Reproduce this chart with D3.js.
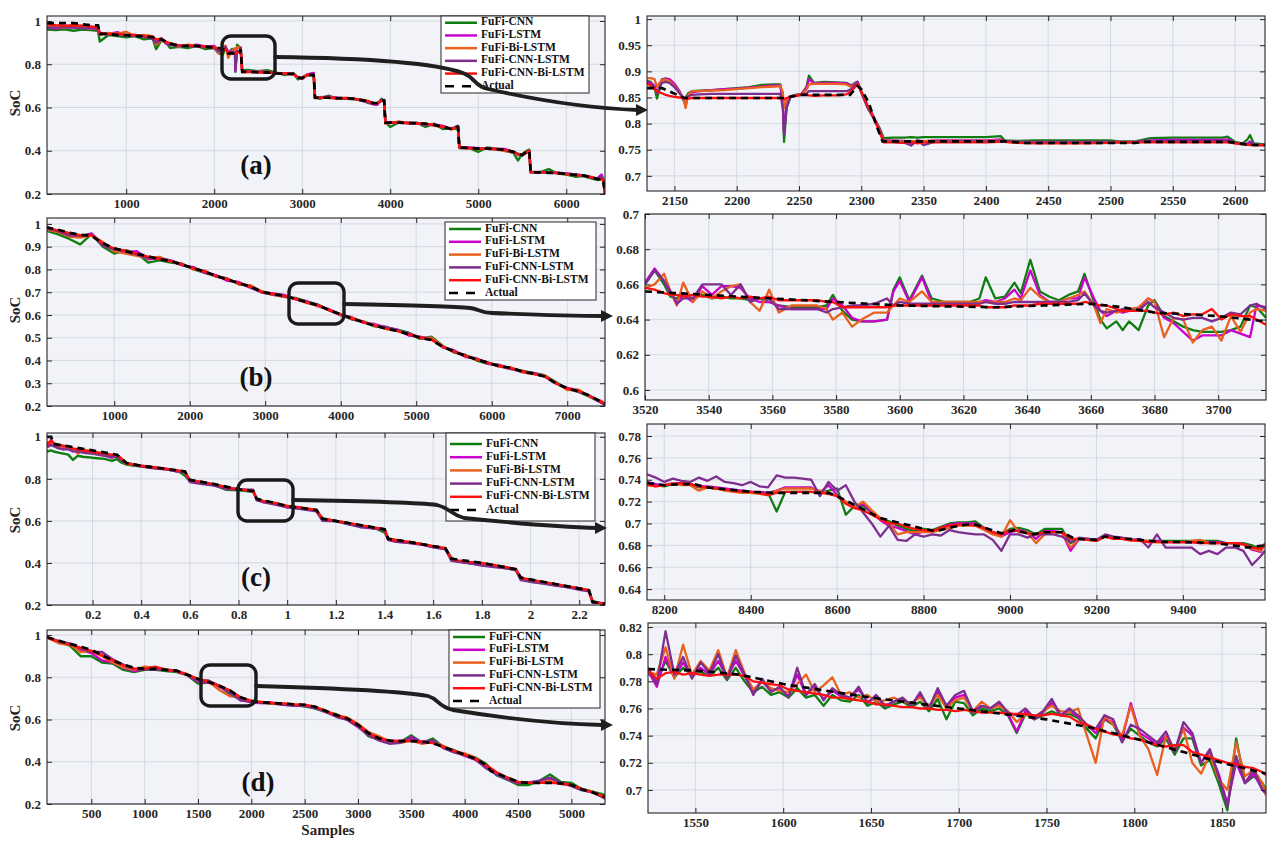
<!DOCTYPE html>
<html>
<head>
<meta charset="utf-8">
<script src="https://cdn.jsdelivr.net/npm/d3@7"></script>
<style>
  html, body { margin: 0; padding: 0; background: #ffffff; }
  svg { display: block; font-family: "Liberation Serif", "Times New Roman", serif; }
</style>
</head>
<body>
<svg id="fig" width="1269" height="841"></svg>
<script>
// ---------------- series ----------------
const seriesNames = ["FuFi-CNN", "FuFi-LSTM", "FuFi-Bi-LSTM", "FuFi-CNN-LSTM", "FuFi-CNN-Bi-LSTM", "Actual"];
const seriesColors = ["#0f7d0f", "#cc00cc", "#e8611e", "#7e2f8e", "#ff1010", "#000000"];

// ---------------- (a) full discharge ----------------
const aFullX = [100,200,300,400,500,600,680,700,800,900,1000,1100,1200,1300,1340,1400,1450,1500,1600,1700,1800,1900,2000,2050,2100,2128,2160,2200,2236,2240,2260,2290,2300,2318,
  2400,2500,2600,2700,2800,2900,2950,3000,3050,3100,3130,3145,3200,3300,3400,3500,3600,3700,3750,3800,3850,3900,3930,3945,
  4000,4100,4200,4300,4400,4500,4600,4700,4750,4770,4785,4900,5000,5100,5200,5300,5400,5450,5500,5550,5580,5595,
  5700,5800,5900,6000,6100,6200,6300,6350,6400,6420,6440];
const aFullActual = [.99,.99,.99,.99,.985,.98,.98,.94,.94,.935,.935,.93,.93,.925,.915,.915,.905,.895,.885,.885,.885,.88,.878,.875,.87,.868,.85,.85,.849,.85,.855,.855,.87,.765,
  .765,.763,.762,.758,.756,.755,.738,.735,.75,.75,.75,.645,.645,.645,.643,.643,.64,.632,.63,.62,.62,.632,.633,.53,
  .53,.53,.528,.527,.525,.52,.51,.5,.51,.51,.415,.413,.41,.41,.408,.405,.395,.385,.38,.395,.4,.3,
  .3,.298,.297,.293,.288,.285,.275,.27,.268,.268,.2];
const aFullCNN = [.96,.958,.962,.955,.96,.958,.955,.905,.935,.93,.925,.93,.915,.92,.87,.91,.9,.875,.88,.875,.885,.87,.875,.85,.845,.88,.85,.87,.872,.765,.89,.878,.878,.772,
  .773,.768,.772,.762,.75,.76,.73,.74,.745,.755,.752,.648,.64,.655,.64,.64,.638,.63,.62,.618,.615,.64,.628,.532,
  .51,.532,.528,.53,.51,.525,.5,.505,.5,.515,.418,.412,.395,.415,.41,.4,.39,.355,.385,.4,.405,.3,
  .3,.315,.295,.29,.28,.283,.27,.265,.268,.27,.2];
const aFullLSTM = [.97,.965,.97,.972,.968,.965,.96,.945,.94,.948,.932,.935,.93,.92,.905,.92,.895,.89,.888,.885,.89,.882,.885,.86,.87,.882,.855,.865,.868,.77,.875,.878,.878,.766,
  .766,.765,.764,.76,.758,.755,.74,.732,.752,.758,.76,.646,.648,.65,.645,.642,.64,.628,.625,.615,.612,.635,.635,.53,
  .532,.53,.53,.528,.52,.522,.515,.5,.512,.51,.415,.415,.412,.41,.408,.408,.395,.38,.382,.39,.4,.302,
  .302,.3,.298,.295,.29,.285,.275,.272,.29,.27,.2];
const aFullBiLSTM = [.975,.97,.968,.975,.97,.965,.97,.935,.945,.94,.95,.93,.935,.93,.89,.91,.9,.895,.88,.89,.886,.878,.88,.85,.88,.885,.83,.862,.872,.83,.88,.875,.878,.765,
  .766,.764,.765,.76,.757,.752,.742,.735,.748,.752,.755,.643,.645,.648,.642,.645,.64,.635,.628,.622,.618,.63,.635,.525,
  .528,.535,.528,.526,.525,.515,.51,.498,.508,.51,.412,.41,.408,.41,.405,.4,.39,.383,.378,.393,.398,.3,
  .3,.298,.298,.293,.288,.287,.278,.27,.27,.268,.2];
const aFullCNNLSTM = [.97,.968,.972,.97,.966,.968,.962,.94,.938,.936,.934,.932,.928,.918,.9,.912,.902,.89,.884,.884,.882,.88,.876,.86,.862,.88,.85,.858,.855,.78,.86,.86,.875,.765,
  .765,.764,.763,.758,.756,.755,.738,.738,.75,.752,.755,.645,.646,.645,.643,.642,.64,.632,.628,.62,.62,.63,.632,.53,
  .53,.53,.527,.527,.522,.518,.51,.502,.51,.512,.413,.413,.41,.41,.407,.403,.392,.385,.38,.393,.4,.3,
  .3,.3,.297,.294,.29,.286,.276,.27,.28,.268,.2];
const aFullCNNBiLSTM = [.985,.98,.978,.98,.978,.975,.97,.945,.94,.94,.935,.935,.93,.928,.915,.918,.905,.897,.887,.886,.885,.882,.878,.872,.865,.87,.85,.85,.85,.85,.855,.855,.87,.764,
  .764,.763,.762,.758,.757,.755,.74,.736,.75,.75,.752,.645,.645,.645,.643,.643,.64,.632,.63,.62,.62,.632,.633,.53,
  .531,.529,.528,.526,.524,.519,.511,.501,.509,.511,.416,.412,.41,.409,.408,.404,.396,.386,.381,.394,.399,.301,
  .301,.299,.296,.292,.288,.284,.276,.271,.268,.267,.2];

// ---------------- (a) zoomed window ----------------
const aZoomX = [2128,2131,2134,2136,2138,2140,2143,2146,2150,2154,2157,2159,2161,2164,2170,2180,2190,2200,2210,2220,
  2230,2235,2237,2238,2240,2243,2247,2252,2256,2258,2262,2270,2280,2288,2292,2295,2297,2300,2305,2310,
  2315,2318,2325,2335,2340,2345,2350,2360,2380,2400,2412,2415,2425,2440,2460,2480,2500,2506,2520,2532,
  2550,2570,2590,2594,2600,2606,2610,2612,2615,2624];
const aZoomActualX = [2128,2140,2158,2238,2251,2291,2297,2300,2306,2312,2317,2415,2430,2520,2528,2595,2612,2624];
const aZoomActual = [.868,.868,.849,.849,.855,.855,.872,.866,.84,.797,.766,.766,.763,.763,.765,.765,.759,.759];
const aZoomCNN = [.882,.88,.87,.848,.865,.885,.886,.884,.876,.862,.845,.85,.858,.862,.863,.864,.866,.868,.87,.874,
  .875,.875,.84,.765,.83,.852,.855,.857,.87,.892,.878,.88,.879,.878,.873,.878,.88,.86,.832,.812,
  .79,.772,.773,.773,.774,.773,.774,.774,.774,.774,.776,.768,.767,.768,.768,.768,.768,.766,.766,.772,
  .773,.773,.773,.775,.765,.762,.77,.778,.762,.76];
const aZoomLSTM = [.88,.878,.872,.858,.87,.884,.886,.885,.876,.862,.848,.835,.855,.86,.862,.864,.866,.867,.869,.871,
  .873,.873,.84,.78,.835,.852,.854,.857,.868,.885,.877,.878,.878,.877,.872,.877,.88,.86,.833,.812,
  .787,.768,.768,.767,.762,.768,.766,.768,.768,.768,.77,.766,.765,.765,.765,.765,.765,.765,.765,.768,
  .769,.769,.769,.77,.763,.761,.762,.766,.76,.759];
const aZoomBiLSTM = [.887,.887,.885,.87,.878,.884,.884,.882,.872,.86,.85,.83,.855,.862,.862,.863,.864,.866,.868,.87,
  .871,.872,.86,.83,.845,.852,.854,.856,.865,.875,.876,.876,.876,.875,.87,.876,.878,.86,.832,.81,
  .785,.767,.767,.766,.767,.766,.767,.767,.767,.767,.768,.765,.764,.764,.764,.764,.764,.764,.764,.766,
  .766,.766,.766,.766,.762,.76,.76,.762,.759,.759];
const aZoomCNNLSTM = [.876,.875,.87,.86,.868,.878,.88,.878,.87,.858,.85,.848,.852,.855,.856,.857,.857,.857,.857,.857,
  .857,.857,.83,.78,.83,.85,.853,.855,.858,.862,.862,.862,.862,.862,.866,.875,.879,.86,.83,.81,
  .783,.766,.765,.763,.758,.768,.759,.766,.766,.766,.767,.766,.764,.764,.764,.764,.764,.764,.764,.766,
  .767,.767,.767,.767,.763,.761,.76,.763,.759,.759];
const aZoomCNNBiLSTM = [.878,.872,.866,.862,.86,.858,.855,.853,.851,.85,.849,.848,.848,.849,.849,.849,.849,.849,.849,.849,
  .849,.849,.848,.846,.849,.851,.853,.855,.855,.854,.853,.854,.854,.856,.862,.87,.876,.862,.835,.812,
  .782,.764,.764,.763,.765,.762,.764,.764,.764,.764,.765,.765,.763,.762,.762,.762,.763,.764,.764,.764,
  .764,.764,.764,.764,.762,.761,.76,.759,.759,.759];

// ---------------- (b) full discharge ----------------
const bFullX = [100,250,400,550,700,850,1000,1150,1300,1450,1600,1750,1900,2050,2200,2350,2500,2650,2800,2950,
  3100,3250,3400,3550,3700,3850,4000,4150,4300,4450,4600,4750,4900,5050,5200,5350,5500,5650,5800,5950,
  6100,6250,6400,6550,6700,6850,7000,7150,7300,7450,7500];
const bFullActual = [.985,.975,.962,.952,.948,.915,.893,.88,.868,.858,.845,.837,.82,.806,.79,.772,.755,.74,.725,.703,
  .692,.685,.67,.656,.642,.622,.603,.585,.568,.553,.54,.53,.515,.5,.49,.46,.44,.42,.405,.39,
  .375,.368,.352,.342,.33,.3,.278,.265,.245,.218,.21];
const bFullCNN = [.97,.955,.935,.91,.955,.9,.87,.885,.872,.83,.84,.83,.825,.8,.785,.77,.76,.735,.73,.7,
  .69,.68,.675,.66,.645,.62,.6,.58,.572,.55,.545,.535,.522,.495,.505,.465,.435,.425,.4,.385,
  .38,.365,.355,.345,.335,.305,.275,.262,.24,.215,.208];
const bFullLSTM = [.98,.97,.95,.945,.958,.91,.885,.875,.88,.845,.85,.84,.818,.81,.785,.775,.75,.745,.72,.7,
  .695,.688,.668,.66,.638,.625,.6,.59,.565,.56,.545,.535,.51,.505,.495,.458,.445,.415,.41,.385,
  .38,.365,.35,.345,.33,.298,.28,.268,.242,.215,.205];
const bFullBiLSTM = [.975,.965,.945,.94,.95,.92,.88,.87,.86,.85,.855,.835,.825,.8,.795,.768,.76,.735,.73,.705,
  .688,.68,.672,.652,.64,.62,.598,.588,.57,.555,.538,.53,.518,.498,.5,.462,.44,.418,.408,.39,
  .372,.37,.348,.34,.335,.302,.27,.272,.24,.222,.21];
const bFullCNNLSTM = [.98,.968,.95,.948,.955,.905,.888,.878,.865,.85,.848,.838,.822,.805,.79,.77,.758,.738,.722,.7,
  .69,.682,.672,.655,.645,.62,.6,.582,.57,.552,.548,.53,.52,.5,.492,.46,.44,.42,.405,.39,
  .375,.362,.352,.342,.33,.3,.278,.262,.245,.215,.205];
const bFullCNNBiLSTM = [.985,.972,.96,.95,.95,.915,.892,.882,.868,.856,.846,.836,.82,.806,.79,.772,.756,.74,.725,.702,
  .693,.684,.671,.655,.643,.621,.604,.584,.569,.552,.541,.529,.516,.501,.492,.461,.439,.421,.404,.391,
  .376,.367,.353,.341,.331,.301,.277,.266,.244,.219,.21];

// ---------------- (b) zoomed window ----------------
const bZoomX = [3520,3523,3526,3528,3530,3532,3535,3538,3541,3544,3547,3550,3553,3556,3559,3562,3566,3570,3574,3577,
  3579,3582,3585,3588,3592,3596,3598,3600,3603,3607,3610,3614,3618,3622,3625,3627,3630,3633,3636,3638,
  3641,3644,3647,3650,3653,3656,3658,3661,3663,3665,3668,3670,3672,3675,3678,3680,3683,3686,3689,3692,
  3695,3698,3701,3704,3707,3710,3712,3715];
const bZoomActualX = [3520,3580,3600,3630,3645,3660,3670,3680,3700,3715];
const bZoomActual = [.656,.650,.648,.647,.648,.649,.647,.644,.642,.639];
const bZoomCNN = [.660,.668,.660,.653,.652,.655,.652,.654,.652,.653,.652,.652,.651,.652,.650,.648,.647,.647,.647,.648,
  .654,.645,.640,.639,.639,.640,.657,.664,.651,.665,.652,.650,.650,.650,.652,.664,.652,.653,.661,.655,
  .674,.656,.653,.651,.654,.656,.666,.650,.640,.635,.639,.634,.639,.634,.648,.651,.642,.639,.636,.634,
  .633,.633,.633,.634,.636,.648,.647,.641];
const bZoomLSTM = [.661,.669,.662,.655,.650,.654,.650,.659,.654,.659,.659,.658,.652,.650,.650,.648,.646,.646,.646,.646,
  .652,.648,.641,.639,.639,.640,.656,.662,.650,.664,.650,.649,.649,.649,.650,.651,.650,.652,.657,.652,
  .668,.654,.650,.650,.652,.652,.664,.652,.645,.642,.645,.644,.645,.646,.652,.650,.641,.638,.633,.628,
  .631,.631,.631,.634,.632,.630,.648,.647];
const bZoomBiLSTM = [.658,.660,.666,.656,.648,.661,.650,.656,.652,.656,.659,.660,.650,.645,.657,.644,.648,.648,.648,.646,
  .640,.644,.636,.640,.644,.644,.648,.652,.650,.656,.650,.650,.650,.650,.650,.650,.650,.650,.652,.651,
  .658,.653,.650,.650,.652,.654,.656,.648,.638,.646,.644,.645,.646,.647,.652,.650,.630,.641,.640,.627,
  .634,.636,.628,.642,.633,.644,.646,.645];
const bZoomCNNLSTM = [.660,.668,.662,.656,.649,.652,.652,.660,.660,.660,.654,.660,.650,.652,.652,.646,.646,.646,.646,.644,
  .646,.647,.648,.648,.649,.652,.648,.650,.649,.649,.649,.649,.649,.649,.649,.650,.649,.649,.650,.650,
  .650,.650,.650,.650,.650,.651,.655,.648,.645,.644,.645,.646,.646,.645,.650,.647,.644,.641,.640,.641,
  .641,.639,.641,.644,.643,.648,.649,.646];
const bZoomCNNBiLSTM = [.658,.657,.655,.654,.654,.653,.654,.653,.653,.652,.653,.652,.653,.652,.653,.651,.651,.651,.651,.650,
  .650,.647,.647,.647,.647,.647,.648,.648,.648,.648,.648,.648,.648,.648,.648,.647,.647,.647,.648,.648,
  .648,.649,.649,.649,.649,.649,.650,.649,.648,.648,.646,.645,.645,.645,.645,.644,.643,.644,.642,.643,
  .643,.646,.640,.643,.642,.642,.640,.637];

// ---------------- (c) full discharge (x in 10^4 samples) ----------------
const cFullX = [0.013,0.03,0.04,0.06,0.08,0.1,0.12,0.14,0.16,0.18,0.2,0.22,0.25,0.28,0.3,0.315,0.34,0.37,0.4,0.45,
  0.5,0.55,0.58,0.6,0.65,0.7,0.75,0.8,0.86,0.875,0.9,0.95,1.0,1.05,1.12,1.145,1.2,1.25,1.3,1.35,
  1.4,1.415,1.45,1.5,1.55,1.6,1.65,1.675,1.7,1.75,1.8,1.85,1.9,1.94,1.96,2.0,2.05,2.1,2.15,2.2,
  2.24,2.255,2.28,2.306];
const cFullActualX = [0.013,0.03,0.04,0.1,0.2,0.3,0.315,0.34,0.4,0.5,0.58,0.6,0.7,0.8,0.86,0.875,0.95,1.0,1.12,1.145,
  1.25,1.4,1.415,1.5,1.65,1.675,1.8,1.94,1.96,2.1,2.24,2.255,2.306];
const cFullActual = [1.0,1.0,.965,.955,.935,.915,.9,.875,.862,.848,.835,.795,.775,.75,.742,.705,.685,.67,.652,.61,
  .59,.56,.515,.5,.47,.42,.4,.37,.33,.3,.27,.215,.205];
const cFullCNN = [.93,.935,.93,.925,.92,.915,.89,.91,.905,.903,.9,.898,.895,.885,.895,.88,.868,.862,.86,.852,
  .845,.838,.815,.79,.78,.77,.748,.745,.738,.705,.695,.682,.668,.662,.648,.612,.6,.59,.575,.57,
  .545,.515,.508,.498,.49,.478,.468,.425,.41,.398,.395,.385,.375,.365,.33,.31,.305,.295,.285,.278,
  .268,.22,.21,.205];
const cFullLSTM = [.96,.965,.958,.95,.955,.945,.93,.94,.935,.93,.928,.918,.912,.9,.915,.895,.874,.865,.862,.855,
  .848,.835,.833,.79,.78,.772,.76,.75,.745,.7,.69,.682,.665,.66,.65,.605,.6,.585,.575,.565,
  .56,.51,.5,.498,.488,.475,.468,.418,.408,.4,.39,.385,.38,.368,.325,.315,.305,.298,.285,.28,
  .265,.215,.21,.205];
const cFullBiLSTM = [.97,.975,.965,.96,.94,.955,.94,.92,.94,.935,.93,.925,.92,.91,.912,.9,.872,.866,.86,.852,
  .846,.838,.83,.792,.782,.77,.758,.75,.742,.705,.69,.685,.672,.66,.652,.61,.6,.59,.578,.568,
  .56,.515,.505,.5,.49,.478,.47,.42,.41,.4,.39,.383,.378,.37,.325,.318,.305,.3,.288,.278,
  .27,.215,.21,.205];
const cFullCNNLSTM = [.95,.96,.955,.945,.94,.94,.932,.93,.925,.922,.92,.915,.91,.905,.905,.89,.875,.868,.858,.85,
  .845,.835,.832,.785,.775,.768,.752,.748,.748,.698,.69,.678,.665,.658,.645,.6,.598,.585,.57,.565,
  .558,.51,.5,.495,.488,.474,.465,.41,.405,.398,.388,.38,.375,.365,.318,.31,.302,.292,.285,.272,
  .265,.21,.212,.205];
const cFullCNNBiLSTM = [.96,.985,.97,.962,.958,.952,.945,.94,.935,.932,.93,.925,.92,.915,.912,.9,.875,.868,.862,.855,
  .848,.84,.835,.795,.785,.775,.76,.75,.742,.705,.695,.685,.67,.665,.652,.61,.6,.59,.58,.57,
  .56,.515,.508,.5,.49,.48,.47,.42,.412,.405,.4,.39,.38,.37,.33,.32,.31,.3,.29,.28,
  .27,.215,.21,.205];

// ---------------- (c) zoomed window ----------------
const cZoomX = [8160,8180,8200,8220,8240,8260,8280,8300,8320,8340,8360,8380,8400,8420,8440,8460,8480,8500,8520,8540,
  8560,8580,8600,8620,8640,8660,8680,8700,8720,8740,8760,8780,8800,8820,8840,8860,8880,8900,8920,8940,
  8960,8980,9000,9020,9040,9060,9080,9100,9120,9140,9160,9180,9200,9220,9240,9260,9280,9300,9320,9340,
  9360,9380,9400,9420,9440,9460,9480,9500,9520,9540,9560,9580,9590];
const cZoomActualX = [8160,8200,8240,8270,8300,8350,8400,8450,8500,8580,8600,8650,8700,8750,8800,8830,8870,8900,8920,8950,
  8980,9010,9050,9080,9120,9150,9200,9220,9300,9350,9400,9480,9550,9590];
const cZoomActual = [.737,.735,.736,.736,.733,.731,.729,.728,.728,.728,.725,.715,.705,.70,.695,.693,.697,.699,.699,.695,
  .691,.694,.69,.692,.692,.686,.685,.688,.685,.683,.683,.682,.678,.68];
const cZoomCNN = [.737,.735,.734,.736,.736,.736,.733,.733,.732,.731,.73,.729,.729,.728,.728,.711,.729,.729,.729,.729,
  .728,.73,.732,.708,.716,.716,.71,.704,.702,.698,.695,.693,.695,.694,.697,.7,.701,.701,.702,.696,
  .692,.69,.695,.696,.694,.69,.695,.695,.695,.682,.686,.686,.685,.688,.687,.686,.685,.684,.684,.684,
  .684,.684,.684,.684,.684,.684,.684,.682,.682,.682,.68,.676,.681];
const cZoomLSTM = [.738,.736,.735,.737,.737,.736,.734,.734,.733,.732,.731,.73,.729,.729,.728,.73,.733,.733,.733,.733,
  .728,.735,.726,.72,.715,.718,.71,.703,.698,.696,.693,.69,.693,.693,.696,.699,.7,.7,.7,.695,
  .691,.688,.692,.694,.692,.686,.693,.693,.692,.675,.686,.686,.685,.689,.687,.686,.685,.684,.683,.684,
  .683,.683,.683,.683,.682,.683,.683,.682,.682,.681,.676,.674,.682];
const cZoomBiLSTM = [.735,.734,.735,.737,.735,.735,.73,.733,.732,.73,.729,.728,.728,.727,.726,.73,.732,.732,.732,.732,
  .73,.728,.725,.72,.715,.72,.712,.705,.7,.69,.692,.692,.692,.692,.694,.696,.698,.698,.698,.694,
  .69,.688,.703,.692,.692,.682,.69,.692,.692,.678,.686,.685,.684,.688,.686,.686,.684,.684,.684,.683,
  .683,.683,.683,.684,.685,.682,.682,.682,.682,.681,.677,.675,.681];
const cZoomCNNLSTM = [.745,.742,.738,.741,.739,.738,.742,.739,.743,.738,.737,.735,.738,.734,.733,.744,.742,.742,.741,.74,
  .725,.738,.73,.735,.72,.71,.7,.688,.698,.685,.684,.69,.688,.69,.689,.694,.692,.691,.69,.69,
  .685,.675,.69,.69,.687,.69,.69,.69,.688,.683,.687,.686,.685,.69,.688,.687,.685,.686,.678,.69,
  .678,.678,.678,.678,.672,.675,.672,.678,.678,.675,.662,.67,.675];
const cZoomCNNBiLSTM = [.736,.734,.735,.736,.737,.736,.734,.733,.732,.731,.73,.729,.729,.728,.726,.728,.729,.729,.729,.729,
  .728,.727,.725,.718,.714,.712,.708,.704,.7,.7,.697,.695,.694,.693,.696,.698,.699,.699,.698,.696,
  .692,.69,.694,.693,.691,.69,.692,.692,.692,.686,.686,.685,.684,.688,.686,.686,.685,.684,.683,.683,
  .683,.683,.683,.683,.682,.682,.682,.682,.682,.681,.678,.677,.681];

// ---------------- (d) full discharge ----------------
const dFullX = [85,100,200,300,400,500,600,700,800,900,1000,1100,1200,1300,1400,1500,1600,1700,1800,1900,
  2000,2100,2200,2300,2400,2500,2600,2700,2800,2900,3000,3100,3200,3300,3400,3500,3600,3700,3800,3900,
  4000,4100,4200,4300,4400,4500,4600,4700,4800,4900,5000,5100,5200,5300,5315];
const dFullActualX = [85,150,250,400,500,600,700,800,900,1000,1100,1200,1300,1400,1520,1600,1700,1800,1850,1900,
  2000,2100,2200,2300,2400,2500,2600,2700,2800,2900,3000,3100,3200,3300,3400,3500,3600,3700,3800,3900,
  4000,4100,4200,4250,4300,4400,4500,4600,4700,4800,4900,5000,5100,5200,5315];
const dFullActual = [.99,.98,.965,.945,.93,.905,.88,.86,.845,.84,.84,.835,.832,.812,.789,.778,.76,.738,.72,.705,
  .688,.682,.678,.675,.672,.67,.66,.64,.62,.605,.575,.535,.51,.5,.498,.498,.495,.488,.47,.452,
  .433,.415,.385,.355,.345,.325,.305,.3,.3,.3,.298,.29,.27,.255,.232];
const dFullCNN = [.99,.985,.965,.95,.9,.9,.87,.865,.835,.825,.835,.835,.83,.825,.81,.77,.775,.76,.72,.7,
  .685,.68,.675,.672,.67,.662,.652,.635,.625,.6,.57,.52,.505,.49,.495,.525,.49,.51,.47,.455,
  .43,.42,.39,.335,.315,.29,.29,.31,.34,.305,.3,.27,.258,.245,.24];
const dFullLSTM = [.99,.985,.968,.955,.93,.915,.88,.87,.845,.83,.84,.838,.835,.828,.81,.78,.775,.755,.73,.695,
  .68,.678,.68,.67,.668,.665,.655,.64,.615,.6,.565,.53,.505,.5,.498,.51,.495,.5,.468,.45,
  .428,.41,.38,.34,.32,.3,.302,.305,.32,.3,.29,.268,.255,.235,.23];
const dFullBiLSTM = [.99,.985,.96,.955,.92,.925,.9,.87,.848,.835,.85,.845,.838,.83,.815,.79,.78,.74,.71,.705,
  .688,.68,.676,.675,.672,.668,.66,.642,.62,.61,.58,.54,.52,.495,.49,.5,.485,.495,.475,.45,
  .44,.42,.37,.345,.325,.305,.3,.305,.31,.295,.29,.27,.258,.235,.23];
const dFullCNNLSTM = [.99,.988,.97,.96,.935,.92,.92,.885,.86,.84,.838,.84,.836,.83,.812,.785,.785,.76,.725,.69,
  .685,.678,.678,.67,.665,.668,.655,.635,.612,.598,.565,.525,.5,.485,.49,.52,.49,.5,.465,.445,
  .43,.41,.37,.34,.315,.298,.302,.31,.325,.3,.285,.265,.255,.23,.225];
const dFullCNNBiLSTM = [.99,.985,.97,.955,.94,.925,.905,.88,.858,.842,.84,.85,.835,.83,.812,.792,.78,.76,.738,.705,
  .688,.683,.678,.676,.672,.67,.66,.64,.62,.605,.575,.535,.51,.5,.498,.498,.495,.488,.47,.452,
  .433,.415,.385,.35,.325,.305,.3,.3,.3,.298,.29,.27,.255,.235,.23];

// ---------------- (d) zoomed window ----------------
const dZoomX = [1523,1528,1533,1538,1543,1548,1553,1558,1563,1568,1573,1578,1583,1588,1593,1598,1603,1608,1613,1618,
  1623,1628,1633,1638,1643,1648,1653,1658,1663,1668,1673,1678,1683,1688,1693,1698,1703,1708,1713,1718,
  1723,1728,1733,1738,1743,1748,1753,1758,1763,1768,1773,1778,1783,1788,1793,1798,1803,1808,1813,1818,
  1823,1828,1833,1838,1843,1848,1853,1858,1863,1868,1873,1875];
const dZoomActualX = [1523,1550,1575,1600,1650,1700,1750,1775,1800,1825,1850,1875];
const dZoomActual = [.789,.788,.785,.778,.768,.76,.752,.746,.738,.729,.72,.712];
const dZoomCNN = [.786,.78,.795,.783,.79,.785,.787,.784,.79,.781,.79,.78,.772,.776,.77,.772,.768,.775,.768,.77,
  .762,.77,.766,.765,.77,.762,.765,.76,.763,.765,.761,.765,.758,.767,.752,.765,.764,.755,.76,.758,
  .76,.755,.742,.756,.752,.755,.758,.755,.756,.753,.745,.738,.752,.748,.736,.745,.74,.735,.732,.738,
  .726,.738,.738,.718,.722,.705,.685,.738,.705,.71,.705,.7];
const dZoomLSTM = [.788,.776,.798,.783,.794,.783,.79,.785,.795,.783,.795,.784,.772,.78,.773,.775,.769,.785,.77,.776,
  .767,.773,.769,.768,.774,.765,.768,.762,.765,.767,.763,.77,.76,.772,.762,.768,.77,.757,.762,.76,
  .764,.756,.743,.758,.752,.757,.764,.755,.758,.754,.748,.742,.752,.75,.737,.764,.742,.738,.733,.74,
  .728,.746,.74,.72,.728,.712,.69,.72,.705,.712,.7,.697];
const dZoomBiLSTM = [.787,.785,.805,.782,.807,.785,.795,.788,.803,.783,.803,.786,.774,.78,.775,.773,.772,.778,.785,.772,
  .777,.783,.77,.772,.768,.77,.765,.766,.768,.765,.764,.768,.762,.77,.76,.766,.768,.758,.765,.76,
  .762,.758,.75,.756,.754,.758,.762,.758,.757,.76,.74,.72,.755,.748,.74,.762,.74,.73,.711,.74,
  .73,.745,.72,.712,.726,.708,.7,.735,.71,.715,.705,.696];
const dZoomCNNLSTM = [.79,.778,.817,.785,.798,.782,.794,.786,.8,.782,.799,.785,.77,.782,.772,.776,.768,.79,.77,.778,
  .766,.775,.77,.768,.776,.764,.77,.762,.765,.768,.762,.772,.76,.775,.762,.77,.773,.758,.762,.76,
  .765,.757,.755,.76,.753,.758,.767,.755,.76,.755,.748,.745,.755,.752,.735,.748,.745,.74,.735,.743,
  .728,.75,.742,.72,.73,.71,.688,.725,.705,.715,.7,.698];
const dZoomCNNBiLSTM = [.788,.782,.786,.787,.785,.786,.785,.784,.785,.785,.785,.784,.78,.779,.778,.777,.774,.773,.772,.771,
  .77,.768,.768,.767,.766,.765,.763,.763,.762,.761,.761,.76,.76,.759,.759,.758,.759,.758,.757,.757,
  .757,.756,.756,.756,.755,.755,.756,.755,.754,.75,.748,.745,.743,.741,.74,.738,.737,.735,.733,.732,
  .733,.733,.728,.726,.724,.722,.72,.719,.717,.716,.713,.711];

// ---------------- tick labels ----------------
const aFullXTicks = [1000, 2000, 3000, 4000, 5000, 6000];
const bFullXTicks = [1000, 2000, 3000, 4000, 5000, 6000, 7000];
const cFullXTicks = [0.2, 0.4, 0.6, 0.8, 1, 1.2, 1.4, 1.6, 1.8, 2, 2.2];
const dFullXTicks = [500, 1000, 1500, 2000, 2500, 3000, 3500, 4000, 4500, 5000];
const fullYTicksCoarse = [0.2, 0.4, 0.6, 0.8, 1];
const fullYTicksFine = [0.2, 0.3, 0.4, 0.5, 0.6, 0.7, 0.8, 0.9, 1];
const aZoomXTicks = [2150, 2200, 2250, 2300, 2350, 2400, 2450, 2500, 2550, 2600];
const aZoomYTicks = [0.7, 0.75, 0.8, 0.85, 0.9, 0.95, 1];
const bZoomXTicks = [3520, 3540, 3560, 3580, 3600, 3620, 3640, 3660, 3680, 3700];
const bZoomYTicks = [0.6, 0.62, 0.64, 0.66, 0.68, 0.7];
const cZoomXTicks = [8200, 8400, 8600, 8800, 9000, 9200, 9400];
const cZoomYTicks = [0.64, 0.66, 0.68, 0.7, 0.72, 0.74, 0.76, 0.78];
const dZoomXTicks = [1550, 1600, 1650, 1700, 1750, 1800, 1850];
const dZoomYTicks = [0.7, 0.72, 0.74, 0.76, 0.78, 0.8, 0.82];
const panelLetters = ["(a)", "(b)", "(c)", "(d)"];

// ---------------- drawing ----------------
const svg = d3.select("#fig");
const fmt = d3.format("~g");
const INK = "#262626";

const panels = [
  // left column: full discharge traces
  { key: "aF", rect: [47, 16, 605, 194], xd: [100, 6440], yd: [0.2, 1.023], xt: aFullXTicks, yt: fullYTicksCoarse,
    x: aFullX, ys: [aFullCNN, aFullLSTM, aFullBiLSTM, aFullCNNLSTM, aFullCNNBiLSTM], ax: aFullX, ay: aFullActual, lw: 2.4 },
  { key: "bF", rect: [47, 218, 605, 406], xd: [110, 7500], yd: [0.2, 1.026], xt: bFullXTicks, yt: fullYTicksFine,
    x: bFullX, ys: [bFullCNN, bFullLSTM, bFullBiLSTM, bFullCNNLSTM, bFullCNNBiLSTM], ax: bFullX, ay: bFullActual, lw: 2.4 },
  { key: "cF", rect: [47, 433, 605, 605], xd: [0.013, 2.306], yd: [0.2, 1.018], xt: cFullXTicks, yt: fullYTicksCoarse,
    x: cFullX, ys: [cFullCNN, cFullLSTM, cFullBiLSTM, cFullCNNLSTM, cFullCNNBiLSTM], ax: cFullActualX, ay: cFullActual, lw: 2.4 },
  { key: "dF", rect: [47, 630, 605, 804], xd: [85, 5315], yd: [0.2, 1.024], xt: dFullXTicks, yt: fullYTicksCoarse,
    x: dFullX, ys: [dFullCNN, dFullLSTM, dFullBiLSTM, dFullCNNLSTM, dFullCNNBiLSTM], ax: dFullActualX, ay: dFullActual, lw: 2.4 },
  // right column: zoomed windows
  { key: "aZ", rect: [647, 16, 1265, 191], xd: [2128, 2624], yd: [0.671, 1.006], xt: aZoomXTicks, yt: aZoomYTicks,
    x: aZoomX, ys: [aZoomCNN, aZoomLSTM, aZoomBiLSTM, aZoomCNNLSTM, aZoomCNNBiLSTM], ax: aZoomActualX, ay: aZoomActual, lw: 2.3 },
  { key: "bZ", rect: [645, 214, 1266, 400], xd: [3520, 3715], yd: [0.5943, 0.7], xt: bZoomXTicks, yt: bZoomYTicks,
    x: bZoomX, ys: [bZoomCNN, bZoomLSTM, bZoomBiLSTM, bZoomCNNLSTM, bZoomCNNBiLSTM], ax: bZoomActualX, ay: bZoomActual, lw: 2.3 },
  { key: "cZ", rect: [647, 424, 1265, 600], xd: [8160, 9590], yd: [0.630, 0.791], xt: cZoomXTicks, yt: cZoomYTicks,
    x: cZoomX, ys: [cZoomCNN, cZoomLSTM, cZoomBiLSTM, cZoomCNNLSTM, cZoomCNNBiLSTM], ax: cZoomActualX, ay: cZoomActual, lw: 2.3 },
  { key: "dZ", rect: [648, 623, 1266, 813], xd: [1523, 1875], yd: [0.683, 0.823], xt: dZoomXTicks, yt: dZoomYTicks,
    x: dZoomX, ys: [dZoomCNN, dZoomLSTM, dZoomBiLSTM, dZoomCNNLSTM, dZoomCNNBiLSTM], ax: dZoomActualX, ay: dZoomActual, lw: 2.3 }
];

function drawPanel(p) {
  const [x0, y0, x1, y1] = p.rect;
  const x = d3.scaleLinear().domain(p.xd).range([x0, x1]);
  const y = d3.scaleLinear().domain(p.yd).range([y1, y0]);
  const g = svg.append("g");

  g.append("rect").attr("x", x0).attr("y", y0).attr("width", x1 - x0).attr("height", y1 - y0)
    .attr("fill", "#f2f3f9");

  // grid
  const grid = g.append("g").attr("stroke", "#d2d5dd").attr("stroke-width", 0.9);
  grid.selectAll(".gx").data(p.xt).join("line")
    .attr("x1", d => x(d)).attr("x2", d => x(d)).attr("y1", y0).attr("y2", y1);
  grid.selectAll(".gy").data(p.yt).join("line")
    .attr("x1", x0).attr("x2", x1).attr("y1", d => y(d)).attr("y2", d => y(d));

  // traces
  const clipId = "clip-" + p.key;
  svg.append("clipPath").attr("id", clipId).append("rect")
    .attr("x", x0).attr("y", y0).attr("width", x1 - x0).attr("height", y1 - y0);
  const plot = g.append("g").attr("clip-path", `url(#${clipId})`);
  const line = d3.line().x(d => x(d[0])).y(d => y(d[1]));
  p.ys.forEach((vals, i) => {
    plot.append("path")
      .attr("d", line(p.x.map((xv, j) => [xv, vals[j]])))
      .attr("fill", "none").attr("stroke", seriesColors[i]).attr("stroke-width", p.lw)
      .attr("stroke-linejoin", "round");
  });
  plot.append("path")
    .attr("d", line(p.ax.map((xv, j) => [xv, p.ay[j]])))
    .attr("fill", "none").attr("stroke", seriesColors[5]).attr("stroke-width", p.lw + 0.3)
    .attr("stroke-dasharray", "7,5");

  // axes with inward ticks on all four sides
  const styleAxis = sel => {
    sel.select(".domain").remove();
    sel.selectAll(".tick line").attr("stroke", INK);
    sel.selectAll("text").attr("fill", INK).attr("font-size", 13).attr("font-weight", "bold")
      .attr("font-family", '"Liberation Serif", "Times New Roman", serif');
  };
  g.append("g").attr("transform", `translate(0,${y1})`)
    .call(d3.axisBottom(x).tickValues(p.xt).tickFormat(fmt).tickSizeInner(-5).tickSizeOuter(0).tickPadding(5))
    .call(styleAxis);
  g.append("g").attr("transform", `translate(0,${y0})`)
    .call(d3.axisTop(x).tickValues(p.xt).tickFormat("").tickSizeInner(-5).tickSizeOuter(0))
    .call(styleAxis);
  g.append("g").attr("transform", `translate(${x0},0)`)
    .call(d3.axisLeft(y).tickValues(p.yt).tickFormat(fmt).tickSizeInner(-5).tickSizeOuter(0).tickPadding(6))
    .call(styleAxis);
  g.append("g").attr("transform", `translate(${x1},0)`)
    .call(d3.axisRight(y).tickValues(p.yt).tickFormat("").tickSizeInner(-5).tickSizeOuter(0))
    .call(styleAxis);

  g.append("rect").attr("x", x0).attr("y", y0).attr("width", x1 - x0).attr("height", y1 - y0)
    .attr("fill", "none").attr("stroke", INK).attr("stroke-width", 1.1);
}

panels.forEach(drawPanel);

// y-axis titles, x-axis title and panel letters
const leftTitles = [{ y: 103 }, { y: 310 }, { y: 520 }, { y: 718 }];
leftTitles.forEach(t => {
  svg.append("text").attr("transform", `translate(17,${t.y}) rotate(-90)`)
    .attr("text-anchor", "middle").attr("dominant-baseline", "middle")
    .attr("font-size", 15).attr("font-weight", "bold").attr("fill", INK).text("SoC");
});
svg.append("text").attr("x", 328).attr("y", 832).attr("text-anchor", "middle").attr("dominant-baseline", "middle")
  .attr("font-size", 15).attr("font-weight", "bold").attr("fill", INK).text("Samples");

const letterPos = [[256, 168], [256, 380], [256, 580], [258, 785]];
panelLetters.forEach((t, i) => {
  svg.append("text").attr("x", letterPos[i][0]).attr("y", letterPos[i][1])
    .attr("text-anchor", "middle").attr("dominant-baseline", "middle")
    .attr("font-size", 27).attr("font-weight", "bold").attr("fill", "#111").text(t);
});

// legends
const legendBoxes = [
  { x: 441, y: 16, w: 148, h: 77, step: 12.7 },
  { x: 445, y: 222, w: 151, h: 78, step: 12.8 },
  { x: 446, y: 433, w: 149, h: 88, step: 13.2 },
  { x: 449, y: 630, w: 151, h: 78, step: 12.8 }
];
legendBoxes.forEach(b => {
  const lg = svg.append("g");
  lg.append("rect").attr("x", b.x).attr("y", b.y).attr("width", b.w).attr("height", b.h)
    .attr("fill", "#ffffff").attr("stroke", INK).attr("stroke-width", 1);
  const top = b.y + (b.h - 6 * b.step) / 2 + b.step / 2;
  seriesNames.forEach((name, i) => {
    const cy = top + i * b.step;
    lg.append("line").attr("x1", b.x + 4).attr("x2", b.x + 36).attr("y1", cy).attr("y2", cy)
      .attr("stroke", seriesColors[i]).attr("stroke-width", 2.5)
      .attr("stroke-dasharray", i === 5 ? "9,8" : null);
    lg.append("text").attr("x", b.x + 40).attr("y", cy).attr("dominant-baseline", "middle")
      .attr("font-size", 11.5).attr("font-weight", "bold").attr("fill", "#111").text(name);
  });
});

// highlight boxes and connecting arrows
const zoomBoxes = [[222, 36, 53, 43], [289, 283, 55, 41], [238, 480, 55, 41], [201, 665, 55, 41]];
zoomBoxes.forEach(r => {
  svg.append("rect").attr("x", r[0]).attr("y", r[1]).attr("width", r[2]).attr("height", r[3])
    .attr("rx", 9).attr("ry", 9).attr("fill", "none").attr("stroke", "#1a1a1a").attr("stroke-width", 3.4);
});
const arrows = [
  { d: "M275,57 C360,58 432,62 463,73 C476,78 474,86 488,89 C532,99 585,108 638,110", tip: [648, 110] },
  { d: "M344,304 C400,305 452,306 470,308 C479,309 480,313 492,313 C540,315 575,316 603,316", tip: [613, 316] },
  { d: "M293,500 C360,501 415,502 437,505 C450,508 450,514 464,518 C512,523 560,527 598,528", tip: [607, 528] },
  { d: "M256,686 C330,688 400,691 428,696 C439,699 437,706 453,710 C502,718 560,724 603,725", tip: [613, 725] }
];
arrows.forEach(a => {
  svg.append("path").attr("d", a.d).attr("fill", "none").attr("stroke", "#1f1f1f").attr("stroke-width", 3.8)
    .attr("stroke-linecap", "round");
  const [tx, ty] = a.tip;
  svg.append("path").attr("d", `M${tx},${ty} L${tx - 12},${ty - 6} L${tx - 12},${ty + 6} Z`).attr("fill", "#1f1f1f");
});
</script>
</body>
</html>
